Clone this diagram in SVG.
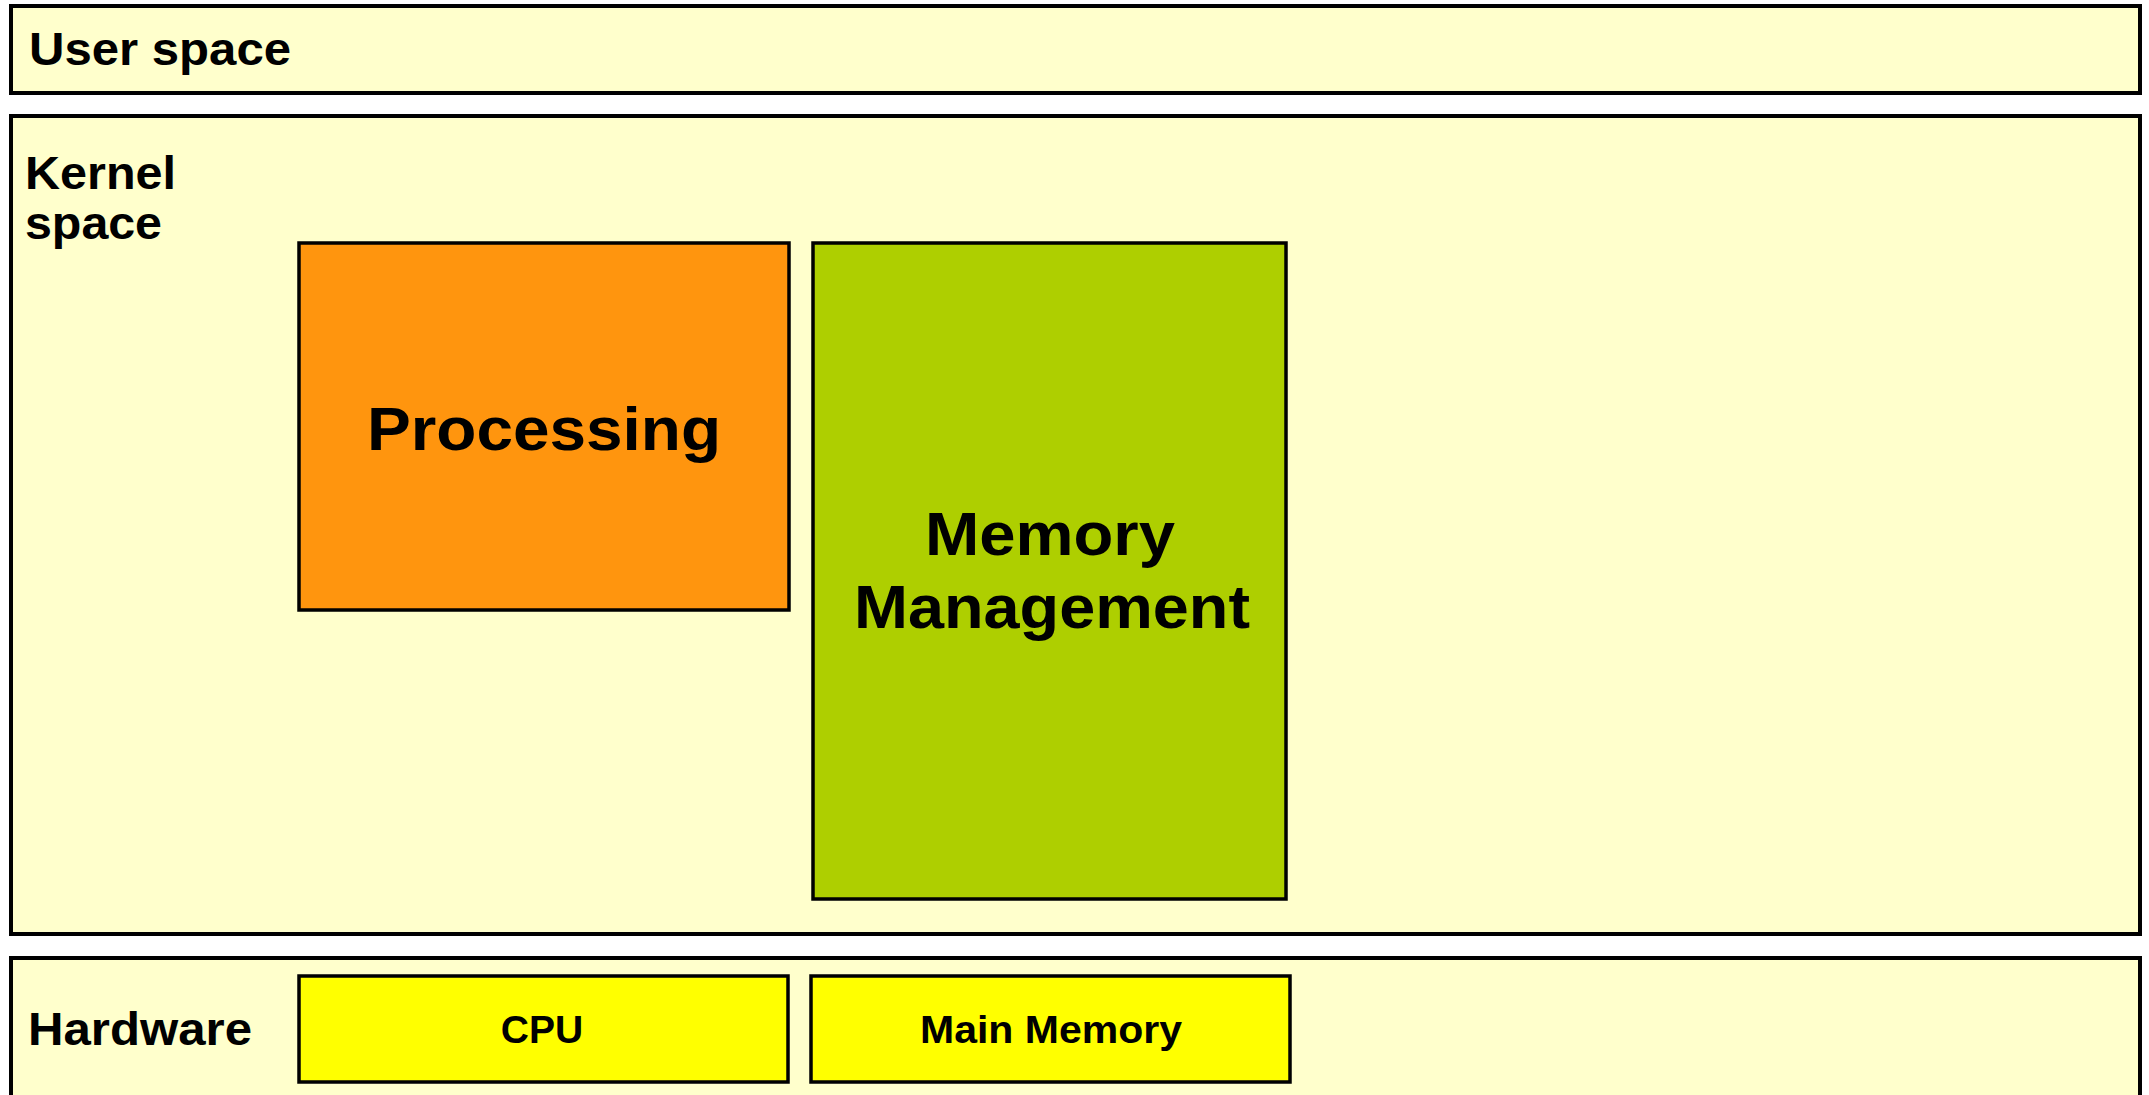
<svg xmlns="http://www.w3.org/2000/svg" width="2149" height="1095" viewBox="0 0 2149 1095">
  <style>
    .layer { fill: #ffffcc; stroke: #000; stroke-width: 4; }
    .box { stroke: #000; stroke-width: 3.5; }
    .proc { fill: #ff950e; }
    .mem { fill: #aecf00; }
    .hw { fill: #ffff00; }
    text { font-family: "Liberation Sans", Arial, sans-serif; font-weight: bold; fill: #000; }
    .lbl { font-size: 46px; }
    .big { font-size: 62px; text-anchor: middle; }
    .small { font-size: 39px; text-anchor: middle; }
  </style>
  <rect x="0" y="0" width="2149" height="1095" fill="#ffffff"/>
  <g id="user-space">
    <rect class="layer" x="11" y="6" width="2129" height="87"/>
    <text class="lbl" x="29" y="65" textLength="262" lengthAdjust="spacingAndGlyphs">User space</text>
  </g>
  <g id="kernel-space">
    <rect class="layer" x="11" y="116" width="2129" height="818"/>
    <text class="lbl" x="25" y="189" textLength="151" lengthAdjust="spacingAndGlyphs">Kernel</text>
    <text class="lbl" x="25" y="239" textLength="137" lengthAdjust="spacingAndGlyphs">space</text>
  </g>
  <g id="hardware">
    <rect class="layer" x="11" y="958" width="2129" height="160"/>
    <text class="lbl" x="28" y="1045" textLength="224" lengthAdjust="spacingAndGlyphs">Hardware</text>
  </g>
  <g id="processing">
    <rect class="box proc" x="299" y="243" width="490" height="367"/>
    <text class="big" x="544" y="450" font-size="65" textLength="354" lengthAdjust="spacingAndGlyphs">Processing</text>
  </g>
  <g id="memory-management">
    <rect class="box mem" x="813" y="243" width="473" height="656"/>
    <text class="big" x="1050" y="555" font-size="56" textLength="250" lengthAdjust="spacingAndGlyphs">Memory</text>
    <text class="big" x="1052" y="628" font-size="56" textLength="396" lengthAdjust="spacingAndGlyphs">Management</text>
  </g>
  <g id="cpu">
    <rect class="box hw" x="299" y="976" width="489" height="106"/>
    <text class="small" x="542" y="1043">CPU</text>
  </g>
  <g id="main-memory">
    <rect class="box hw" x="811" y="976" width="479" height="106"/>
    <text class="small" x="1051" y="1043" font-size="40" textLength="262" lengthAdjust="spacingAndGlyphs">Main Memory</text>
  </g>
  <g id="connectors"/>
</svg>
